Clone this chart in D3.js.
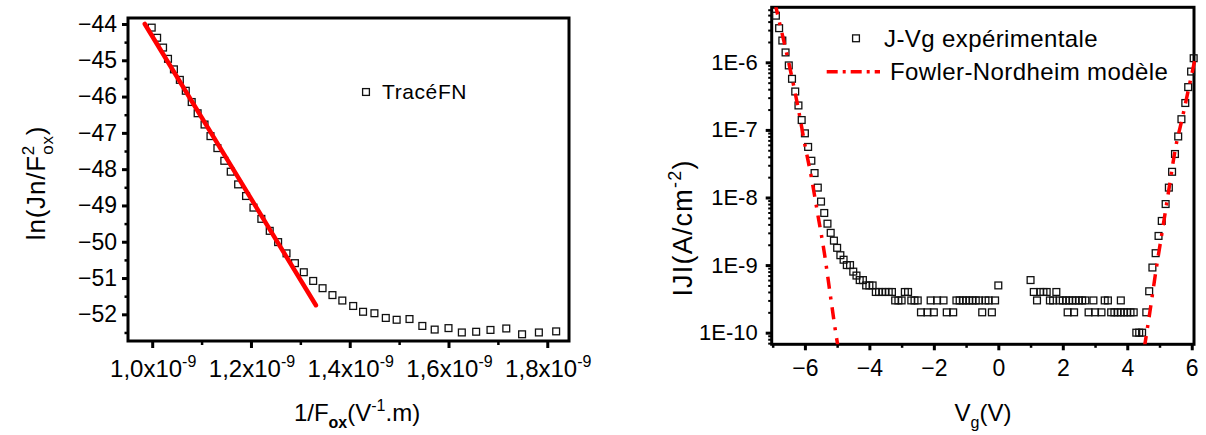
<!DOCTYPE html>
<html><head><meta charset="utf-8">
<script src="https://cdn.jsdelivr.net/npm/d3@7"></script>
<style>
body{margin:0;background:#fff}
svg{display:block}
text{font-family:"Liberation Sans",Arial,Helvetica,sans-serif;fill:#000}
</style>
</head><body>
<svg id="c" width="1206" height="435"></svg>
<script>
// ---------- Left panel data (1/Fox in units of 1e-9 V^-1.m) ----------
const fnInvF = [0.999,1.010,1.022,1.032,1.044,1.056,1.068,1.080,1.092,1.106,1.118,1.132,1.146,1.159,1.174,1.190,1.205,1.221,1.238,1.255,1.272,1.289,1.307,1.326,1.345,1.365,1.385,1.407,1.427,1.450,1.473,1.495,1.521,1.547,1.572,1.600,1.627,1.656,1.685,1.717,1.749,1.783,1.818];
const fnLn   = [-44.10,-44.38,-44.65,-44.96,-45.25,-45.54,-45.84,-46.15,-46.46,-46.77,-47.09,-47.42,-47.77,-48.07,-48.42,-48.74,-49.06,-49.37,-49.70,-50.01,-50.32,-50.59,-50.84,-51.08,-51.28,-51.47,-51.62,-51.77,-51.93,-51.97,-52.10,-52.15,-52.13,-52.32,-52.42,-52.38,-52.50,-52.48,-52.43,-52.39,-52.55,-52.50,-52.47];
const fitInvF = [0.985, 1.3315];
const fitLn   = [-44.0, -51.75];
const leftXTicks = [1.0,1.2,1.4,1.6,1.8];
const leftXLabels = ["1,0x10","1,2x10","1,4x10","1,6x10","1,8x10"];
const leftXMinor = [1.1,1.3,1.5,1.7];
const leftYTicks = [-44,-45,-46,-47,-48,-49,-50,-51,-52];
const leftYMinor = [-44.5,-45.5,-46.5,-47.5,-48.5,-49.5,-50.5,-51.5,-52.5];

// ---------- Right panel data ----------
const vgExp = [-6.9,-6.8,-6.7,-6.6,-6.5,-6.4,-6.3,-6.2,-6.1,-6.0,-5.9,-5.8,-5.7,-5.6,-5.5,-5.4,-5.3,-5.2,-5.1,-5.0,-4.9,-4.8,-4.7,-4.6,-4.5,-4.4,-4.3,-4.2,-4.1,-4.0,-3.9,
  -3.8,-3.7,-3.6,-3.5,-3.4,-3.3,-3.2,-3.1,-3.0,-2.9,-2.8,-2.7,-2.6,-2.5,
  -2.4,-2.2,-2.0,-2.1,-1.9,-1.7,-1.6,-1.4,
  -1.3,-1.2,-1.1,-1.0,-0.9,-0.8,-0.7,-0.6,-0.4,-0.3,-0.1,-0.5,-0.2,0.0,
  1.0,1.1,1.3,1.4,1.5,1.2,1.6,1.7,1.9,2.0,2.1,2.2,2.3,2.4,2.5,2.6,2.7,1.8,2.15,2.35,
  2.8,3.0,3.2,2.95,3.3,3.4,3.5,3.6,3.7,3.8,3.9,4.0,4.1,4.2,3.8,
  4.28,4.37,4.46,4.59,4.68,4.78,4.88,4.97,5.07,5.19,5.29,5.39,5.48,5.58,5.68,5.80,5.89,5.98,6.06];
const jExp = [4.9e-6,3.2e-6,2.1e-6,1.4e-6,9.0e-7,5.7e-7,3.7e-7,2.3e-7,1.4e-7,8.9e-8,5.6e-8,3.5e-8,2.3e-8,1.4e-8,8.7e-9,5.9e-9,4.1e-9,3.0e-9,2.3e-9,1.8e-9,1.4e-9,1.2e-9,1.0e-9,1.0e-9,8e-10,7e-10,6e-10,6e-10,5e-10,5e-10,5e-10,
  4e-10,4e-10,4e-10,4e-10,4e-10,4e-10,3e-10,3e-10,3e-10,4e-10,4e-10,3e-10,3e-10,3e-10,
  2e-10,2e-10,2e-10,3e-10,3e-10,3e-10,2e-10,2e-10,
  3e-10,3e-10,3e-10,3e-10,3e-10,3e-10,3e-10,3e-10,3e-10,3e-10,3e-10,2e-10,2e-10,5e-10,
  6e-10,4e-10,4e-10,4e-10,4e-10,3e-10,3e-10,3e-10,3e-10,3e-10,3e-10,3e-10,3e-10,3e-10,3e-10,3e-10,3e-10,4e-10,2e-10,2e-10,
  2e-10,2e-10,2e-10,3e-10,3e-10,3e-10,2e-10,2e-10,2e-10,2e-10,2e-10,2e-10,2e-10,2e-10,3e-10,
  1e-10,1e-10,1e-10,2e-10,4.1e-10,9.2e-10,1.5e-9,2.7e-9,4.5e-9,8.0e-9,1.4e-8,2.4e-8,4.4e-8,8.0e-8,1.44e-7,2.5e-7,4.3e-7,7.3e-7,1.15e-6];
const vgModelNeg = [-6.93,-6.8,-6.6,-6.4,-6.2,-6.0,-5.8,-5.6,-5.4,-5.2,-5.0,-4.98];
const jModelNeg  = [7.6e-6,4.1e-6,1.6e-6,5.9e-7,2.0e-7,6.0e-8,2.0e-8,5.6e-9,1.55e-9,3.3e-10,7.4e-11,6.5e-11];
const vgModelPos = [4.53,4.7,4.9,5.1,5.3,5.5,5.7,5.9,6.1];
const jModelPos  = [6.0e-11,2.0e-10,8.9e-10,3.5e-9,1.4e-8,5.5e-8,1.45e-7,4.0e-7,1.1e-6];
const rightXTicks = [-6,-4,-2,0,2,4,6];
const rightXMinor = [-7,-5,-3,-1,1,3,5];
const rightYTicks = [1e-10,1e-9,1e-8,1e-7,1e-6];
const rightYLabels = ["1E-10","1E-9","1E-8","1E-7","1E-6"];

const svg = d3.select("#c");
const MINUS = "\u2212";
const FONT = "Liberation Sans, Arial, sans-serif";

function styleAxis(g, w){
  g.select(".domain").remove();
  g.selectAll(".tick line").attr("stroke","#000").attr("stroke-width",w);
}

// ================= LEFT PANEL =================
const L = {x0:128, x1:569, y0:18, y1:341};
const lx = d3.scaleLinear().domain([0.951,1.844]).range([L.x0,L.x1]);
const ly = d3.scaleLinear().domain([-52.735,-43.835]).range([L.y1,L.y0]);

svg.append("g").attr("transform",`translate(0,${L.y1})`)
  .call(d3.axisBottom(lx).tickValues(leftXTicks).tickSize(7).tickFormat(""))
  .call(g=>styleAxis(g,3));
svg.append("g").attr("transform",`translate(0,${L.y1})`)
  .call(d3.axisBottom(lx).tickValues(leftXMinor).tickSize(4).tickFormat(""))
  .call(g=>styleAxis(g,2.5));
svg.append("g").attr("transform",`translate(${L.x0},0)`)
  .call(d3.axisLeft(ly).tickValues(leftYTicks).tickSize(6).tickPadding(5)
    .tickFormat(d=>MINUS+Math.abs(d)))
  .call(g=>styleAxis(g,3))
  .call(g=>g.selectAll("text").attr("font-size",23).attr("font-family",FONT).attr("fill","#000"));
svg.append("g").attr("transform",`translate(${L.x0},0)`)
  .call(d3.axisLeft(ly).tickValues(leftYMinor).tickSize(3.5).tickFormat(""))
  .call(g=>styleAxis(g,2.5));

const lxl = svg.append("g");
leftXTicks.forEach((t,i)=>{
  const tx = lxl.append("text").attr("x",lx(t)+1).attr("y",377).attr("text-anchor","middle").attr("font-size",24);
  tx.append("tspan").text(leftXLabels[i]);
  tx.append("tspan").attr("dy",-10).attr("font-size",16).text("-9");
});

svg.append("rect").attr("x",L.x0).attr("y",L.y0).attr("width",L.x1-L.x0).attr("height",L.y1-L.y0)
  .attr("fill","none").attr("stroke","#000").attr("stroke-width",3);

const sq = 6.8;
svg.append("g").selectAll("rect").data(fnInvF.map((v,i)=>[v,fnLn[i]])).join("rect")
  .attr("x",d=>lx(d[0])-sq/2).attr("y",d=>ly(d[1])-sq/2).attr("width",sq).attr("height",sq)
  .attr("fill","none").attr("stroke","#111").attr("stroke-width",1.3);
svg.append("line").attr("x1",lx(fitInvF[0])).attr("y1",ly(fitLn[0]))
  .attr("x2",lx(fitInvF[1])).attr("y2",ly(fitLn[1]))
  .attr("stroke","#ff0000").attr("stroke-width",4.5).attr("stroke-linecap","round");

svg.append("rect").attr("x",366-sq/2).attr("y",92-sq/2).attr("width",sq).attr("height",sq)
  .attr("fill","none").attr("stroke","#111").attr("stroke-width",1.3);
svg.append("text").attr("x",382).attr("y",99).attr("font-size",21).attr("letter-spacing",0.6).text("TracéFN");

const lxt = svg.append("text").attr("x",357).attr("y",421).attr("text-anchor","middle").attr("font-size",24);
lxt.append("tspan").text("1/F");
lxt.append("tspan").attr("dy",7).attr("font-size",16).attr("font-weight","bold").text("ox");
lxt.append("tspan").attr("dy",-7).text("(V");
lxt.append("tspan").attr("dy",-10).attr("font-size",16).text("-1");
lxt.append("tspan").attr("dy",10).text(".m)");

const lyt = svg.append("text").attr("transform","translate(45,183) rotate(-90)").attr("text-anchor","middle").attr("font-size",26).attr("letter-spacing",0.8);
lyt.append("tspan").text("ln(Jn/F");
lyt.append("tspan").attr("dy",-11).attr("font-size",17).text("2");
lyt.append("tspan").attr("dx",-10).attr("dy",19).attr("font-size",17).text("ox");
lyt.append("tspan").attr("dy",-8).text(")");

// ================= RIGHT PANEL =================
const R = {x0:771.7, x1:1194, y0:7.3, y1:344.3};
const rx = d3.scaleLinear().domain([-7.03,6.07]).range([R.x0,R.x1]);
const ry = d3.scaleLog().domain([Math.pow(10,-10.172),Math.pow(10,-5.186)]).range([R.y1,R.y0]);

const logMinor = [];
for(let e=-11;e<=-6;e++) for(let k=2;k<=9;k++){ const v=k*Math.pow(10,e); if(v>ry.domain()[0] && v<ry.domain()[1]) logMinor.push(v); }

svg.append("g").attr("transform",`translate(0,${R.y1})`)
  .call(d3.axisBottom(rx).tickValues(rightXTicks).tickSize(6).tickPadding(9).tickFormat(d=>d<0?MINUS+Math.abs(d):String(d)))
  .call(g=>styleAxis(g,3))
  .call(g=>g.selectAll("text").attr("font-size",23).attr("font-family",FONT).attr("fill","#000"));
svg.append("g").attr("transform",`translate(0,${R.y1})`)
  .call(d3.axisBottom(rx).tickValues(rightXMinor).tickSize(3.5).tickFormat(""))
  .call(g=>styleAxis(g,2.5));
svg.append("g").attr("transform",`translate(${R.x0},0)`)
  .call(d3.axisLeft(ry).tickValues(rightYTicks).tickSize(6).tickPadding(8).tickFormat((d,i)=>rightYLabels[i]))
  .call(g=>styleAxis(g,3))
  .call(g=>g.selectAll("text").attr("font-size",22).attr("font-family",FONT).attr("fill","#000"));
svg.append("g").attr("transform",`translate(${R.x0},0)`)
  .call(d3.axisLeft(ry).tickValues(logMinor).tickSize(3.5).tickFormat(""))
  .call(g=>styleAxis(g,2));

svg.append("rect").attr("x",R.x0).attr("y",R.y0).attr("width",R.x1-R.x0).attr("height",R.y1-R.y0)
  .attr("fill","none").attr("stroke","#000").attr("stroke-width",3);

svg.append("defs").append("clipPath").attr("id","rclip").append("rect")
  .attr("x",R.x0).attr("y",R.y0).attr("width",R.x1-R.x0+2).attr("height",R.y1-R.y0);

const dash = "12,8,3,8";
const line = d3.line().x(d=>rx(d[0])).y(d=>ry(d[1])).curve(d3.curveMonotoneX);

svg.append("g").selectAll("rect").data(vgExp.map((v,i)=>[v,jExp[i]])).join("rect")
  .attr("x",d=>rx(d[0])-sq/2).attr("y",d=>ry(d[1])-sq/2).attr("width",sq).attr("height",sq)
  .attr("fill","none").attr("stroke","#111").attr("stroke-width",1.3);

const mg = svg.append("g").attr("clip-path","url(#rclip)");
mg.append("path").datum(vgModelNeg.map((v,i)=>[v,jModelNeg[i]])).attr("d",line)
  .attr("fill","none").attr("stroke","#ff0000").attr("stroke-width",3.5).attr("stroke-dasharray",dash);
mg.append("path").datum(vgModelPos.map((v,i)=>[v,jModelPos[i]])).attr("d",line)
  .attr("fill","none").attr("stroke","#ff0000").attr("stroke-width",3.5).attr("stroke-dasharray",dash);

svg.append("rect").attr("x",856-sq/2).attr("y",38.3-sq/2).attr("width",sq).attr("height",sq)
  .attr("fill","none").attr("stroke","#111").attr("stroke-width",1.3);
svg.append("text").attr("x",884).attr("y",47).attr("font-size",24).attr("letter-spacing",0.4).text("J-Vg expérimentale");
svg.append("line").attr("x1",826.7).attr("x2",880).attr("y1",71.7).attr("y2",71.7)
  .attr("stroke","#ff0000").attr("stroke-width",3.5).attr("stroke-dasharray","11,5,3,5");
svg.append("text").attr("x",890).attr("y",80).attr("font-size",24).attr("letter-spacing",0.4).text("Fowler-Nordheim modèle");

const rxt = svg.append("text").attr("x",983).attr("y",421).attr("text-anchor","middle").attr("font-size",24);
rxt.append("tspan").text("V");
rxt.append("tspan").attr("dy",7).attr("font-size",16).text("g");
rxt.append("tspan").attr("dy",-7).text("(V)");

const ryt = svg.append("text").attr("transform","translate(692,228) rotate(-90)").attr("text-anchor","middle").attr("font-size",27).attr("letter-spacing",1.2);
ryt.append("tspan").text("IJI(A/cm");
ryt.append("tspan").attr("dy",-11).attr("font-size",18).text("-2");
ryt.append("tspan").attr("dy",11).text(")");
</script>
</body></html>
